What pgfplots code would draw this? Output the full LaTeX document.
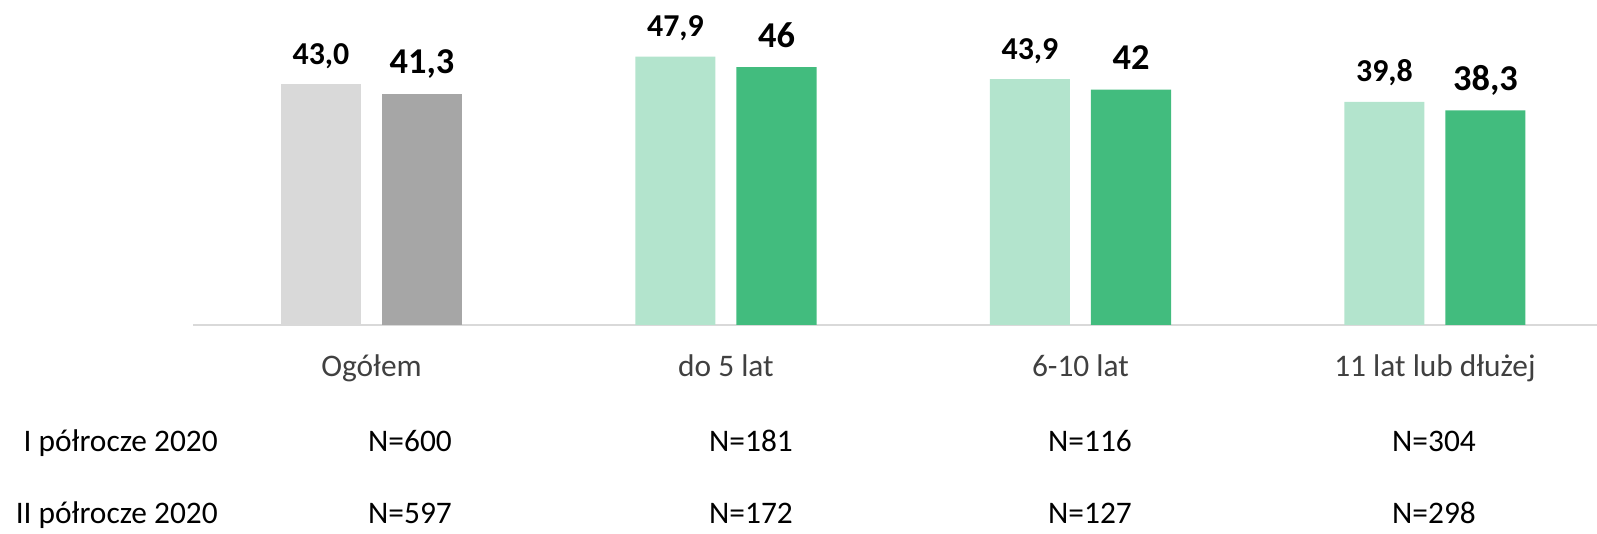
\documentclass[border=0pt]{standalone}
\usepackage{fontspec}
\setmainfont{Carlito}
\usepackage{pgfplots}
\pgfplotsset{compat=1.18}
\definecolor{lgrey}{HTML}{D9D9D9}
\definecolor{dgrey}{HTML}{A6A6A6}
\definecolor{lgreen}{HTML}{B3E4CD}
\definecolor{dgreen}{HTML}{42BC7E}
\definecolor{catgrey}{HTML}{404040}
\newcommand{\txt}{\fontsize{31.5}{36}\selectfont}
\begin{document}
\begin{tikzpicture}
\useasboundingbox (0,0) rectangle (1597bp,534bp);
\begin{axis}[
  at={(193bp,209bp)}, anchor=south west,
  scale only axis, width=1404bp, height=325bp,
  xmin=-0.5035, xmax=3.457, ymin=0, ymax=58,
  axis y line=none, axis x line*=bottom,
  axis line style={draw=lgrey, line width=1.5bp},
  xtick={0,1,2,3},
  xticklabels={Ogółem, do 5 lat, 6-10 lat, 11 lat lub dłużej},
  major tick length=0,
  xticklabel style={font=\txt, text=catgrey, anchor=base, yshift=-52bp},
  ybar, bar width=0.2257, clip=false,
  point meta=explicit symbolic,
  nodes near coords,
]
\addplot[fill=lgrey, draw=none, bar shift=-0.1425,
  every node near coord/.append style={anchor=base, yshift=20bp, font=\fontsize{32}{36}\selectfont\bfseries, text=black}]
  coordinates {(0,43.0) [43,0]};
\addplot[fill=lgreen, draw=none, bar shift=-0.1425,
  every node near coord/.append style={anchor=base, yshift=20bp, font=\fontsize{32}{36}\selectfont\bfseries, text=black}]
  coordinates {(1,47.9) [47,9] (2,43.9) [43,9] (3,39.8) [39,8]};
\addplot[fill=dgrey, draw=none, bar shift=0.1425,
  every node near coord/.append style={anchor=base, yshift=20bp, font=\fontsize{36.5}{40}\selectfont\bfseries, text=black}]
  coordinates {(0,41.3) [41,3]};
\addplot[fill=dgreen, draw=none, bar shift=0.1425,
  every node near coord/.append style={anchor=base, yshift=20bp, font=\fontsize{36.5}{40}\selectfont\bfseries, text=black}]
  coordinates {(1,46) [46] (2,42) [42] (3,38.3) [38,3]};
\end{axis}
\node[anchor=base east, inner sep=0pt, font=\txt] at (218bp,82bp) {I półrocze 2020};
\node[anchor=base east, inner sep=0pt, font=\txt] at (218bp,11bp) {II półrocze 2020};
\node[anchor=base, font=\txt] at (410bp,82bp) {N=600};
\node[anchor=base, font=\txt] at (751bp,82bp) {N=181};
\node[anchor=base, font=\txt] at (1090bp,82bp) {N=116};
\node[anchor=base, font=\txt] at (1434bp,82bp) {N=304};
\node[anchor=base, font=\txt] at (410bp,11bp) {N=597};
\node[anchor=base, font=\txt] at (751bp,11bp) {N=172};
\node[anchor=base, font=\txt] at (1090bp,11bp) {N=127};
\node[anchor=base, font=\txt] at (1434bp,11bp) {N=298};
\end{tikzpicture}
\end{document}
